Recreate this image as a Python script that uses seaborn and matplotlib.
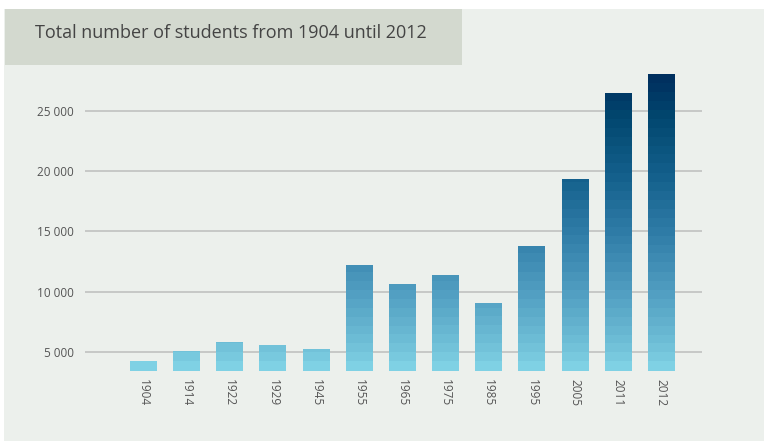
import numpy as np
import pandas as pd
import matplotlib
matplotlib.use("Agg")
import matplotlib.pyplot as plt
import seaborn as sns
from matplotlib.colors import LinearSegmentedColormap, ListedColormap
from matplotlib.patches import Rectangle

# data
years = ["1904", "1914", "1922", "1929", "1945", "1955", "1965",
         "1975", "1985", "1995", "2005", "2011", "2012"]
students = [4250, 5080, 5830, 5580, 5250, 12210, 10640,
            11380, 9060, 13790, 19340, 26470, 28050]
yticks = [5000, 10000, 15000, 20000, 25000]
ytick_labels = ["5 000", "10 000", "15 000", "20 000", "25 000"]

df = pd.DataFrame({"year": years, "students": students})

sns.set_theme(style="white")
plt.rcParams["font.family"] = ["Open Sans", "DejaVu Sans"]

W, H = 764, 441
fig = plt.figure(figsize=(W / 100, H / 100), dpi=100)
fig.patch.set_facecolor("white")

# panel background and title box
fig.add_artist(Rectangle((4 / W, 0), 1, 1 - 9 / H, transform=fig.transFigure,
                         facecolor="#ecf0ec", edgecolor="none", zorder=0))
fig.add_artist(Rectangle((5 / W, 1 - 65 / H), 457 / W, 56 / H, transform=fig.transFigure,
                         facecolor="#d3d9cf", edgecolor="none", zorder=1))
fig.text(35 / W, 1 - 33 / H, "Total number of students from 1904 until 2012",
         fontsize=13, color="#444444", va="center", ha="left", zorder=2)

ymin, ymax = 3450, 28100
ax = fig.add_axes([85 / W, 1 - 370.7 / H, (702 - 85) / W, (370.7 - 73.4) / H])
ax.set_facecolor("none")

sns.barplot(data=df, x="year", y="students", ax=ax, width=0.625,
            color="#7ecfe3", saturation=1, linewidth=0, edgecolor="none", zorder=3)

ax.set_xlim(-1.355, 12.94)
ax.set_ylim(ymin, ymax)

# stepped vertical gradient tied to value, clipped to each bar
base = LinearSegmentedColormap.from_list("blues", [
    (0.0, "#7fd1e4"), (0.08, "#6fbfd7"), (0.27, "#4f9cc0"),
    (0.47, "#2f7ca7"), (0.67, "#135f8b"), (0.87, "#02476f"), (1.0, "#00305f")])
steps = ListedColormap(base(np.linspace(0, 1, 33)))
grad = np.linspace(0, 1, 400).reshape(-1, 1)
for p in ax.patches:
    x0 = p.get_x()
    x1 = x0 + p.get_width()
    im = ax.imshow(grad, cmap=steps, origin="lower", aspect="auto",
                   extent=(x0, x1, ymin, ymax), zorder=4, interpolation="nearest")
    im.set_clip_path(p)
ax.set_xlim(-1.355, 12.94)
ax.set_ylim(ymin, ymax)

ax.set_yticks(yticks)
ax.set_yticklabels(ytick_labels)
ax.yaxis.grid(True, color="#c6c8c6", linewidth=1.4, zorder=1)
ax.set_axisbelow(True)
ax.tick_params(axis="y", length=0, pad=8, labelsize=8.5, labelcolor="#555555")
ax.tick_params(axis="x", length=0, pad=6, labelsize=8.5, labelcolor="#555555",
               labelrotation=270)
for lab in ax.get_xticklabels():
    lab.set_va("top")
    lab.set_ha("center")
ax.set_xlabel("")
ax.set_ylabel("")
for s in ax.spines.values():
    s.set_visible(False)

fig.savefig("out.png", dpi=100)
